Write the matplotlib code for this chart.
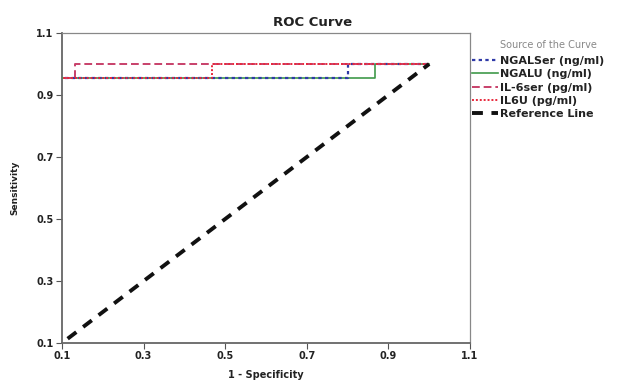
import matplotlib
matplotlib.use("Agg")
import matplotlib.pyplot as plt

plt.rcParams['font.family'] = ['DejaVu Sans']

# ROC curve data (1 - specificity, sensitivity)
ngalser_x = [0.0, 0.0, 0.8, 0.8, 1.0]
ngalser_y = [0.0, 0.955, 0.955, 1.0, 1.0]
ngalu_x = [0.0, 0.0, 0.867, 0.867, 1.0]
ngalu_y = [0.0, 0.955, 0.955, 1.0, 1.0]
il6ser_x = [0.0, 0.0, 0.133, 0.133, 1.0]
il6ser_y = [0.0, 0.955, 0.955, 1.0, 1.0]
il6u_x = [0.0, 0.0, 0.467, 0.467, 1.0]
il6u_y = [0.0, 0.955, 0.955, 1.0, 1.0]
ref_x = [0.0, 1.0]
ref_y = [0.0, 1.0]

ticks = [0.1, 0.3, 0.5, 0.7, 0.9, 1.1]
tick_labels = ['0.1', '0.3', '0.5', '0.7', '0.9', '1.1']

fig = plt.figure(figsize=(6.25, 3.82), dpi=100)
ax = fig.add_axes([62/625, 1-343/382, (470-62)/625, (343-33)/382])

ax.plot(ngalu_x, ngalu_y, color='#3f9a4a', lw=1.2, ls='-', label='NGALU (ng/ml)', zorder=3)
ax.plot(ngalser_x, ngalser_y, color='#2f3aa8', lw=1.6, ls=(0, (1.5, 1.5)), label='NGALSer (ng/ml)', zorder=4)
ax.plot(il6ser_x, il6ser_y, color='#c8406a', lw=1.4, ls=(0, (4, 2)), label='IL-6ser (pg/ml)', zorder=4)
ax.plot(il6u_x, il6u_y, color='#e8283c', lw=1.4, ls=(0, (1, 1)), label='IL6U (pg/ml)', zorder=5)
ax.plot(ref_x, ref_y, color='#111111', lw=2.8, ls=(0, (2.8, 2.2)), label='Reference Line', zorder=6)

ax.set_xlim(0.1, 1.1)
ax.set_ylim(0.1, 1.1)
ax.set_xticks(ticks)
ax.set_xticklabels(tick_labels)
ax.set_yticks(ticks)
ax.set_yticklabels(tick_labels)
ax.tick_params(axis='both', labelsize=7, length=4, width=0.8, color='#555555', pad=2)
for lab in ax.get_xticklabels() + ax.get_yticklabels():
    lab.set_fontweight('bold')
    lab.set_color('#222222')

for side in ['left', 'bottom']:
    ax.spines[side].set_color('#666666')
    ax.spines[side].set_linewidth(1.3)
for side in ['top', 'right']:
    ax.spines[side].set_color('#888888')
    ax.spines[side].set_linewidth(0.9)

fig.text(0.5, 1-23/382, 'ROC Curve', fontsize=9.5, fontweight='bold', color='#222222',
         ha='center', va='center')
ax.set_xlabel('1 - Specificity', fontsize=7, fontweight='bold', color='#222222', labelpad=6)
ax.set_ylabel('Sensitivity', fontsize=6.5, fontweight='bold', color='#222222', labelpad=12)

fig.text(548/625, 1-45/382, 'Source of the Curve', fontsize=7, color='#888888',
         ha='center', va='center')

handles, labels = ax.get_legend_handles_labels()
order = ['NGALSer (ng/ml)', 'NGALU (ng/ml)', 'IL-6ser (pg/ml)', 'IL6U (pg/ml)', 'Reference Line']
hmap = dict(zip(labels, handles))
leg = fig.legend([hmap[o] for o in order], order,
                 loc='upper left', bbox_to_anchor=(472/625, 1-56/382),
                 frameon=False, fontsize=8, handlelength=2.3, handletextpad=0.2,
                 labelspacing=0.3, borderaxespad=0, borderpad=0)
for t in leg.get_texts():
    t.set_fontweight('bold')
    t.set_color('#222222')

fig.savefig('out.png', dpi=100)
